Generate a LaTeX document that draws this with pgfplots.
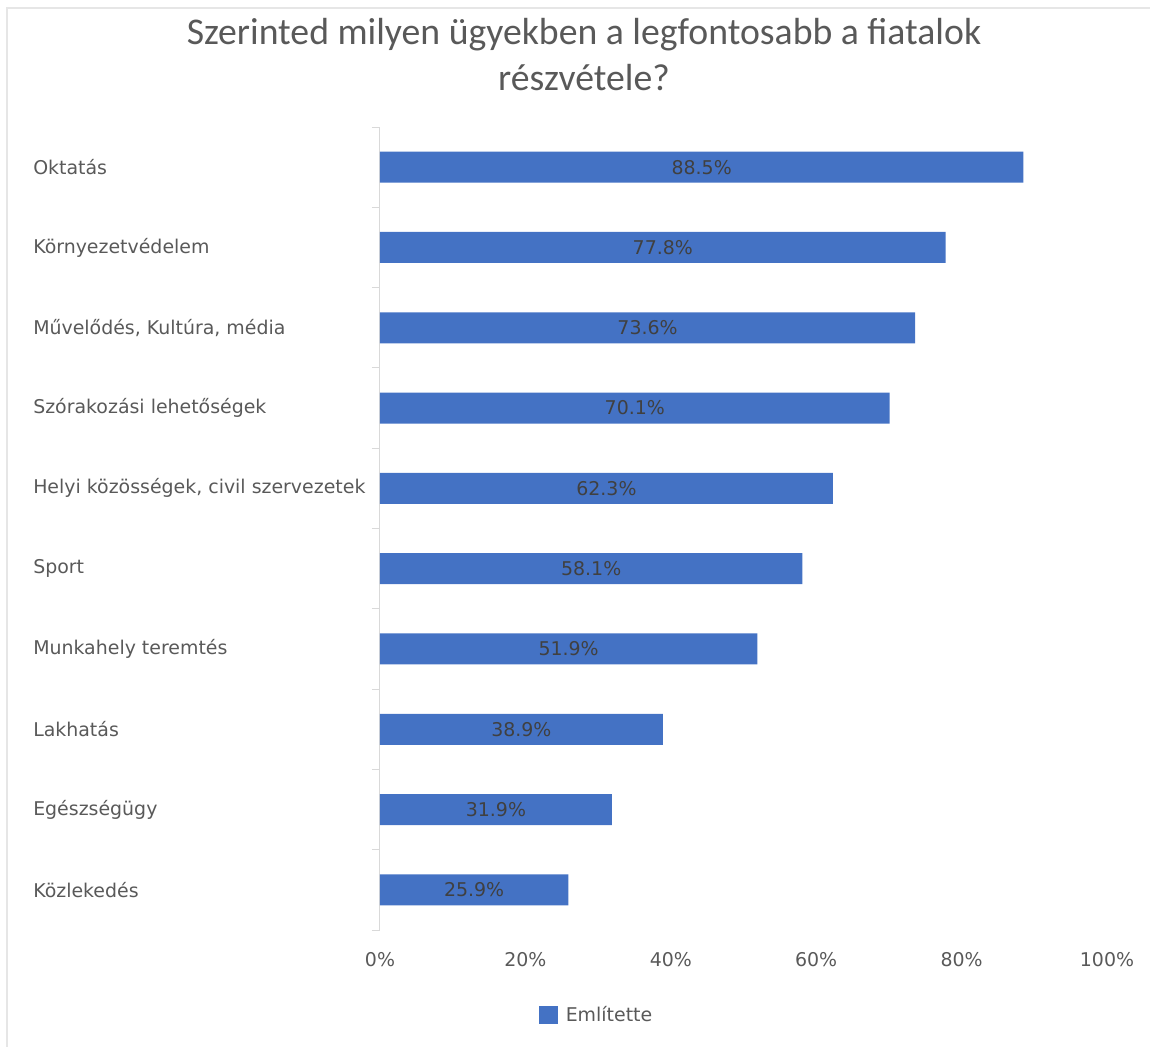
\documentclass[border=0pt]{standalone}
\usepackage{pgfplots}
\usepackage{pgfplotstable}
\pgfplotsset{compat=1.18}
\usepackage{fontspec}
\setmainfont{Carlito}
\newfontfamily\lblfont{DejaVu Sans}
\definecolor{barblue}{HTML}{4472C4}
\definecolor{txtgray}{HTML}{595959}
\definecolor{lblgray}{HTML}{404040}
\definecolor{axgray}{HTML}{D9D9D9}
\definecolor{framegray}{HTML}{E6E6E6}
\pgfplotstableread[col sep=comma]{
idx,value
0,88.5
1,77.8
2,73.6
3,70.1
4,62.3
5,58.1
6,51.9
7,38.9
8,31.9
9,25.9
}\datatable
\begin{document}
\begin{tikzpicture}
\useasboundingbox (0pt,0pt) rectangle (862.5pt,785.25pt);
\begin{scope}[x=0.75pt,y=0.75pt]
\draw[framegray, line width=1.5pt] (7,0) -- (7,1039) -- (1150,1039);
\node[font=\fontsize{28.3}{34}\selectfont, text=txtgray, inner sep=0pt] at (584,1012) {Szerinted milyen ügyekben a legfontosabb a fiatalok};
\node[font=\fontsize{28.3}{34}\selectfont, text=txtgray, inner sep=0pt] at (584,969) {részvétele?};
\end{scope}
\begin{axis}[
  at={(285pt,87.75pt)}, anchor=south west,
  scale only axis, width=545.25pt, height=602.25pt,
  xbar, bar width=23.25pt,
  xmin=0, xmax=100, ymin=-0.5, ymax=9.5, y dir=reverse,
  enlargelimits=false,
  axis lines*=left,
  axis line style={-},
  x axis line style={draw=none},
  y axis line style={draw=axgray, line width=0.75pt},
  xtick={0,20,...,100},
  xticklabel={\pgfmathprintnumber{\tick}\%},
  xtick style={draw=none},
  xticklabel style={font=\lblfont\fontsize{14.2}{17}\selectfont, text=txtgray, anchor=center, yshift=-22.5pt},
  ytick={0,...,9},
  yticklabels={Oktatás, Környezetvédelem, {Művelődés, Kultúra, média}, Szórakozási lehetőségek, {Helyi közösségek, civil szervezetek}, Sport, Munkahely teremtés, Lakhatás, Egészségügy, Közlekedés},
  yticklabel style={font=\lblfont\fontsize{14.2}{17}\selectfont, text=txtgray, anchor=west, inner sep=0pt, xshift=-260.25pt},
  major tick length=0pt,
  minor ytick={-0.5,0.5,...,9.5},
  minor tick length=6pt,
  tick align=outside,
  ytick style={draw=axgray, line width=0.75pt},
  minor y tick style={draw=axgray, line width=0.75pt},
  /pgf/number format/assume math mode=true,
  legend style={at={(0.2985,-0.106)}, anchor=center, draw=none, fill=none, font=\lblfont\fontsize{14.2}{17}\selectfont, text=txtgray, inner sep=0pt, /tikz/every odd column/.append style={column sep=4pt}},
  legend image code/.code={\fill[barblue] (0pt,-7pt) rectangle (14pt,7pt);},
]
\addplot[fill=barblue, draw=none, point meta=x,
  nodes near coords={\pgfmathprintnumber[fixed,fixed zerofill,precision=1]{\pgfplotspointmeta}\%},
  visualization depends on={\thisrow{value} \as \rawval},
  every node near coord/.append style={anchor=center, xshift={-\rawval*2.72625pt}, font=\lblfont\fontsize{14.2}{17}\selectfont, text=lblgray, inner sep=0pt},
] table[x=value, y=idx] {\datatable};
\addlegendentry{Említette}
\end{axis}
\end{tikzpicture}
\end{document}
